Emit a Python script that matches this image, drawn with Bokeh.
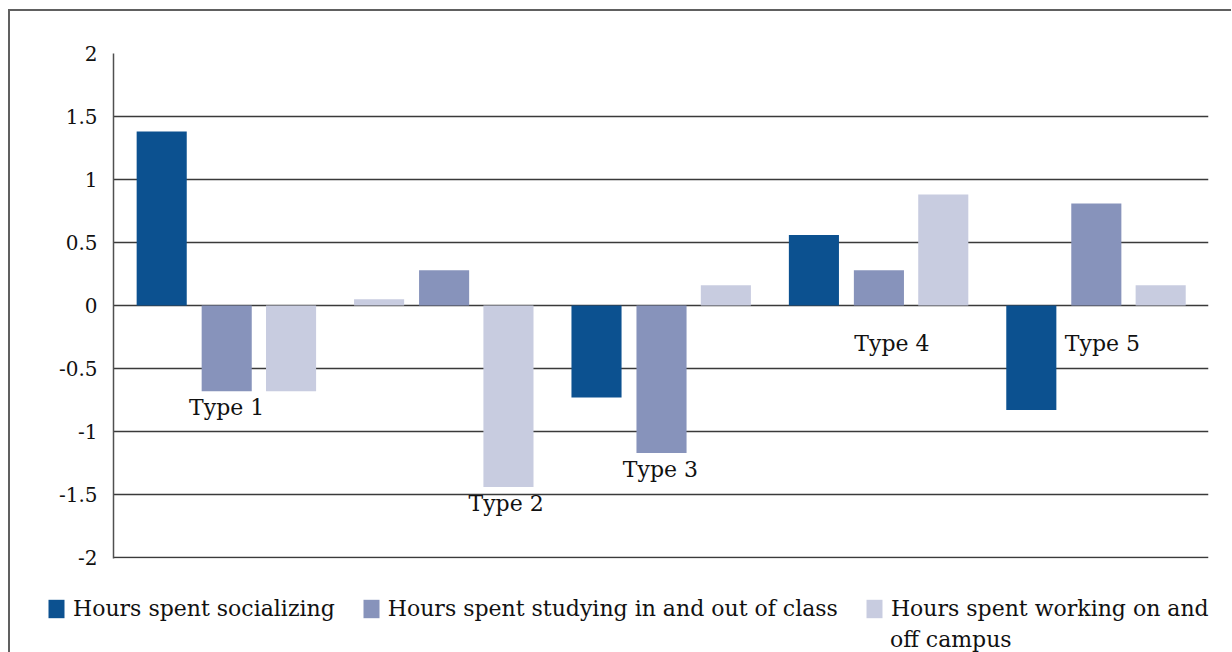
from bokeh.plotting import figure
from bokeh.models import ColumnDataSource, FixedTicker, Legend, LegendItem, Range1d, Label
from bokeh.layouts import column
from bokeh.core.properties import value
from bokeh.embed import file_html
from bokeh.resources import INLINE

categories = ["Type 1", "Type 2", "Type 3", "Type 4", "Type 5"]
socializing = [1.38, 0.05, -0.73, 0.56, -0.83]
studying = [-0.68, 0.28, -1.17, 0.28, 0.81]
working = [-0.68, -1.44, 0.16, 0.88, 0.16]
series_names = ["Hours spent socializing",
                "Hours spent studying in and out of class",
                "Hours spent working on and"]
series_name_wrap = "off campus"
y_ticks = [-2, -1.5, -1, -0.5, 0, 0.5, 1, 1.5, 2]
y_tick_labels = ["-2", "-1.5", "-1", "-0.5", "0", "0.5", "1", "1.5", "2"]

# styling / placement
DARK, MID, LIGHT = "#0c5190", "#8793bb", "#c8cce0"
series_colors = [DARK, MID, LIGHT]
social_colors = [DARK, LIGHT, DARK, DARK, DARK]
offsets = [-0.299, 0.0, 0.296]
bar_w = 0.2304
label_dx = [0.0, 0.285, -0.005, 0.06, 0.028]
label_y = [-0.81, -1.57, -1.30, -0.30, -0.30]
FONT = "DejaVu Serif"
FS = "22px"
BORDER = "2px solid #606060"

p = figure(width=1223, height=576, output_backend="svg", toolbar_location=None,
           x_range=Range1d(-0.0207, 5.016), y_range=Range1d(-2.008, 2),
           min_border_left=103, min_border_right=25, min_border_top=42, min_border_bottom=29)
p.frame_align = False
p.styles = {"border-left": BORDER, "border-top": BORDER}
p.outline_line_color = None
p.xaxis.visible = False
p.xgrid.visible = False
p.ygrid.ticker = FixedTicker(ticks=y_ticks[:-1])
p.ygrid.grid_line_color = "#3a3a3a"
p.ygrid.grid_line_width = 1.5
yax = p.yaxis[0]
yax.ticker = FixedTicker(ticks=y_ticks)
yax.major_label_overrides = {t: l for t, l in zip(y_ticks, y_tick_labels)}
yax.major_tick_line_color = None
yax.minor_tick_line_color = None
yax.axis_line_color = "#505050"
yax.axis_line_width = 1.5
yax.major_label_text_font = FONT
yax.major_label_text_font_size = "20px"
yax.major_label_text_color = "#111111"
yax.major_label_standoff = 10

centers = [i + 0.5 for i in range(len(categories))]
for k, (vals, cols) in enumerate([(socializing, social_colors),
                                  (studying, [MID] * 5),
                                  (working, [LIGHT] * 5)]):
    src = ColumnDataSource(dict(x=[c + offsets[k] for c in centers], top=vals, color=cols))
    p.vbar(x="x", top="top", bottom=0, width=bar_w, fill_color="color",
           line_color=None, source=src)

lsrc = ColumnDataSource(dict(x=[c + d for c, d in zip(centers, label_dx)], y=label_y, t=categories))
p.text(x="x", y="y", text="t", source=lsrc, text_font=value(FONT), text_font_size=FS,
       text_align="center", text_baseline="middle", text_color="#111111")

# legend strip below the chart
lg = figure(width=1223, height=67, output_backend="svg", toolbar_location=None,
            x_range=Range1d(0, 1), y_range=Range1d(0, 1),
            min_border_left=0, min_border_right=0, min_border_top=0, min_border_bottom=0)
lg.frame_align = False
lg.styles = {"border-left": BORDER}
lg.axis.visible = False
lg.grid.visible = False
lg.outline_line_color = None

items = []
for name, col in zip(series_names, series_colors):
    r = lg.vbar(x=[5.0], top=[1.0], bottom=0, width=0.1, fill_color=col, line_color=None)
    items.append(LegendItem(label=name, renderers=[r]))

legend = Legend(items=items, orientation="horizontal", location=(36, 31))
legend.label_text_font = FONT
legend.label_text_font_size = FS
legend.label_text_color = "#111111"
legend.glyph_width = 20
legend.glyph_height = 23
legend.label_standoff = 7
legend.spacing = 26
legend.padding = 0
legend.margin = 0
legend.border_line_color = None
legend.background_fill_alpha = 0
lg.add_layout(legend, "center")

lg.add_layout(Label(x=(888 - 10) / 1221, y=(652 - 639) / 67, text=series_name_wrap,
                    text_font=FONT, text_font_size=FS, text_color="#111111",
                    text_align="left", text_baseline="middle"))

layout = column(p, lg, spacing=0)
layout.styles = {"margin-left": "8px", "margin-top": "9px"}

open("out.html", "w").write(file_html(layout, INLINE))
